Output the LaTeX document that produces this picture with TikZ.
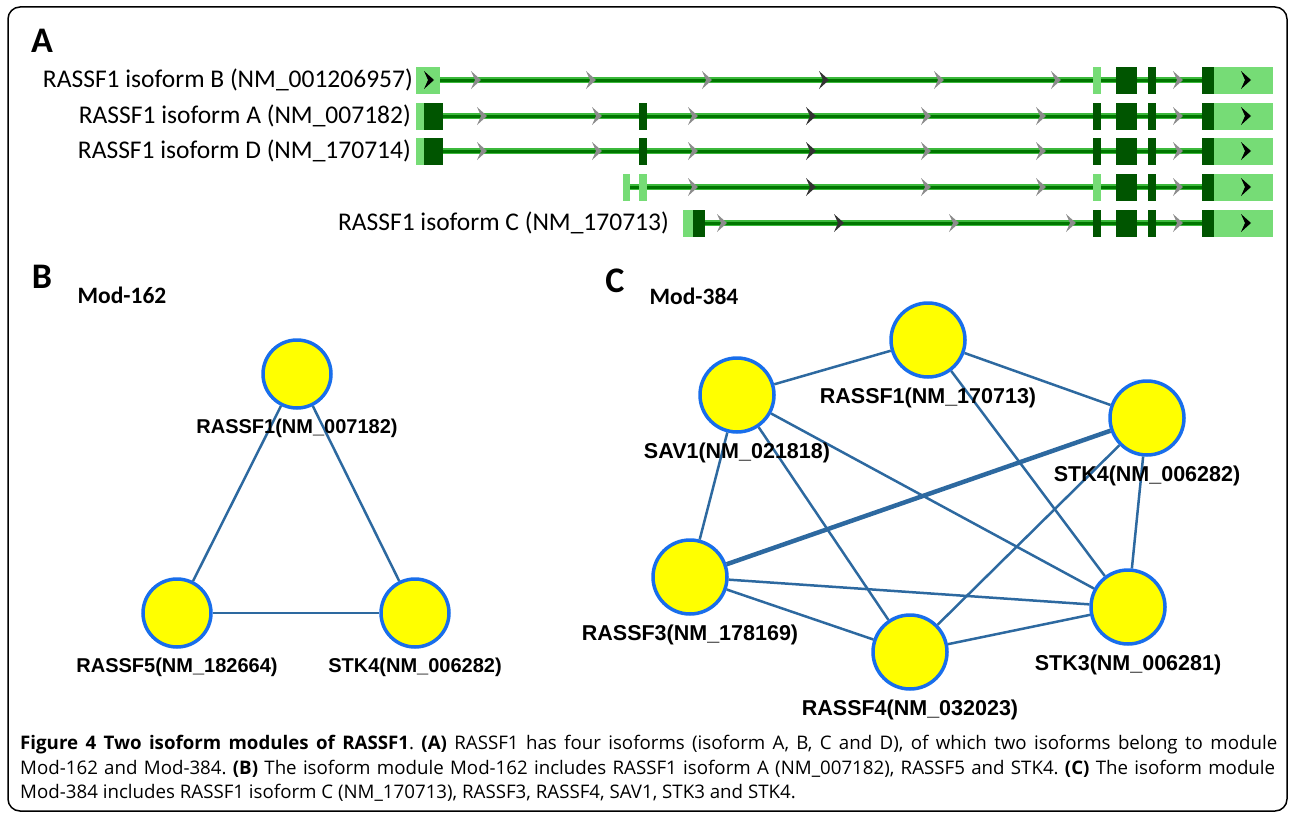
\documentclass[tikz,border=0pt]{standalone}
\usepackage{fontspec}
\setmainfont{Carlito}
\newfontfamily\arialfont{Liberation Sans}
\newfontfamily\capfont{Open Sans}
\usepackage{xcolor}
\usepackage{tikz}
\usetikzlibrary{positioning}
\frenchspacing

\definecolor{exondark}{RGB}{0,85,0}
\definecolor{exonlight}{RGB}{118,220,118}
\definecolor{intronout}{RGB}{60,185,60}
\definecolor{intronin}{RGB}{0,118,0}
\definecolor{chevgray}{RGB}{140,140,140}
\definecolor{chevdark}{RGB}{50,50,50}
\definecolor{nodefill}{RGB}{255,255,0}
\definecolor{nodeline}{RGB}{25,110,235}
\definecolor{edgeblue}{RGB}{45,105,160}

\tikzset{
  chev/.pic={\fill (-6,-9) -- (4,0) -- (-6,9) -- (-2,0) -- cycle;},
  panel/.style={font=\bfseries\fontsize{36}{40}\selectfont, inner sep=0},
  modname/.style={font=\bfseries\fontsize{23.5}{28}\selectfont, inner sep=0},
  rowlab/.style={font=\fontsize{25.5}{30}\selectfont, anchor=east, inner sep=0},
  gnode/.style={circle, draw=nodeline, fill=nodefill, line width=3.5, minimum size=68, inner sep=0},
  gedge/.style={draw=edgeblue, line width=2.5},
  glab/.style={font=\arialfont\bfseries\fontsize{20}{24}\selectfont, inner sep=0},
  caption/.style={font=\capfont\fontsize{18.7}{22}\selectfont, anchor=west, inner sep=0}
}

\begin{document}
\begin{tikzpicture}[x=1pt,y=-1pt]
  \useasboundingbox (0,0) rectangle (1292,816);
  % Frame
  \draw[line width=1.5, rounded corners=12] (8,7) rectangle (1287,811);

  % Panel A: transcript tracks
  \node[panel] (pa) at (42,41) {A};
  \node[rowlab] (rowb) at (413,80) {RASSF1 isoform B (NM\_001206957)};
  \node[rowlab] (rowa) at (411,116) {RASSF1 isoform A (NM\_007182)};
  \node[rowlab] (rowd) at (411,151) {RASSF1 isoform D (NM\_170714)};
  \node[rowlab] (rowc) at (669,223) {RASSF1 isoform C (NM\_170713)};

  % Introns
  \foreach \y/\xa in {80/440,116/443,151/443,187/623,223/705} {
    \draw[line width=6.5, intronout] (\xa,\y) -- (1202,\y);
    \draw[line width=3, intronin] (\xa,\y) -- (1202,\y);
  }

  % Shared 3' exons
  \foreach \y in {80,116,151,187,223} {
    \fill[exondark] (1116,\y-13.5) rectangle (1137,\y+13.5);
    \fill[exondark] (1148,\y-13.5) rectangle (1156,\y+13.5);
    \fill[exondark] (1202,\y-13.5) rectangle (1214,\y+13.5);
    \fill[exonlight] (1214,\y-13.5) rectangle (1273,\y+13.5);
    \pic[chevgray] at (1179,\y) {chev};
    \pic[black] at (1247,\y) {chev};
  }
  \foreach \y in {80,187}
    \fill[exonlight] (1093,\y-13.5) rectangle (1101,\y+13.5);
  \foreach \y in {116,151,223}
    \fill[exondark] (1093,\y-13.5) rectangle (1101,\y+13.5);

  % Isoform B
  \fill[exonlight] (416,66.5) rectangle (440,93.5);
  \pic[black] at (430,80) {chev};
  \foreach \x in {477,592,708,940,1057} \pic[chevgray] at (\x,80) {chev};
  \pic[chevdark] at (825,80) {chev};

  % Isoforms A and D
  \foreach \y in {116,151} {
    \fill[exonlight] (416,\y-13.5) rectangle (424,\y+13.5);
    \fill[exondark] (424,\y-13.5) rectangle (443,\y+13.5);
    \fill[exondark] (639,\y-13.5) rectangle (647,\y+13.5);
    \foreach \x in {483,598,694,927,1042} \pic[chevgray] at (\x,\y) {chev};
    \pic[chevdark] at (812,\y) {chev};
  }

  % Unlabelled track
  \fill[exonlight] (623,173.5) rectangle (630,200.5);
  \fill[exonlight] (639,173.5) rectangle (647,200.5);
  \foreach \x in {694,927,1042} \pic[chevgray] at (\x,187) {chev};
  \pic[chevdark] at (812,187) {chev};

  % Isoform C
  \fill[exonlight] (683,209.5) rectangle (693,236.5);
  \fill[exondark] (693,209.5) rectangle (705,236.5);
  \foreach \x in {723,955,1072} \pic[chevgray] at (\x,223) {chev};
  \pic[chevdark] at (840,223) {chev};

  % Panel B: Mod-162
  \node[panel] (pb) at (42,277) {B};
  \node[modname] (modb) at (122,295) {Mod-162};
  \node[gnode] (b-rassf1) at (297,374) {};
  \node[gnode] (b-rassf5) at (177,613) {};
  \node[gnode] (b-stk4) at (415,613) {};
  \draw[gedge] (b-rassf1) -- (b-rassf5);
  \draw[gedge] (b-rassf5) -- (b-stk4);
  \draw[gedge] (b-stk4) -- (b-rassf1);
  \node[glab, below=9pt of b-rassf1] (b-rassf1-t) {RASSF1(NM\_007182)};
  \node[glab, below=9pt of b-rassf5] (b-rassf5-t) {RASSF5(NM\_182664)};
  \node[glab, below=9pt of b-stk4] (b-stk4-t) {STK4(NM\_006282)};

  % Panel C: Mod-384
  \node[panel] (pc) at (615,281) {C};
  \node[modname] (modc) at (694,296) {Mod-384};
  \begin{scope}[gnode/.append style={minimum size=74}, glab/.append style={font=\arialfont\bfseries\fontsize{21.5}{26}\selectfont}]
    \node[gnode] (c-rassf1) at (928,340) {};
    \node[gnode] (c-sav1) at (737,395) {};
    \node[gnode] (c-stk4) at (1147,418) {};
    \node[gnode] (c-rassf3) at (690,577) {};
    \node[gnode] (c-rassf4) at (910,652) {};
    \node[gnode] (c-stk3) at (1128,607) {};
    \draw[gedge] (c-sav1) -- (c-rassf1);
    \draw[gedge] (c-rassf1) -- (c-stk4);
    \draw[gedge] (c-rassf1) -- (c-stk3);
    \draw[gedge] (c-sav1) -- (c-stk3);
    \draw[gedge] (c-sav1) -- (c-rassf4);
    \draw[gedge] (c-sav1) -- (c-rassf3);
    \draw[gedge, line width=4.5] (c-stk4) -- (c-rassf3);
    \draw[gedge] (c-stk4) -- (c-rassf4);
    \draw[gedge] (c-stk4) -- (c-stk3);
    \draw[gedge] (c-rassf3) -- (c-stk3);
    \draw[gedge] (c-rassf3) -- (c-rassf4);
    \draw[gedge] (c-rassf4) -- (c-stk3);
    \node[glab, below=9pt of c-rassf1] (c-rassf1-t) {RASSF1(NM\_170713)};
    \node[glab, below=9pt of c-sav1] (c-sav1-t) {SAV1(NM\_021818)};
    \node[glab, below=9pt of c-stk4] (c-stk4-t) {STK4(NM\_006282)};
    \node[glab, below=9pt of c-rassf3] (c-rassf3-t) {RASSF3(NM\_178169)};
    \node[glab, below=9pt of c-rassf4] (c-rassf4-t) {RASSF4(NM\_032023)};
    \node[glab, below=9pt of c-stk3] (c-stk3-t) {STK3(NM\_006281)};
  \end{scope}

  % Caption
  \node[caption] (cap1) at (20,745) {\makebox[1257pt][s]{\textbf{Figure 4 Two isoform modules of RASSF1}. \textbf{(A)} RASSF1 has four isoforms (isoform A, B, C and D), of which two isoforms belong to module}};
  \node[caption] (cap2) at (20,769) {\makebox[1255pt][s]{Mod-162 and Mod-384. \textbf{(B)} The isoform module Mod-162 includes RASSF1 isoform A (NM\_007182), RASSF5 and STK4. \textbf{(C)} The isoform module}};
  \node[caption] (cap3) at (20,793) {Mod-384 includes RASSF1 isoform C (NM\_170713), RASSF3, RASSF4, SAV1, STK3 and STK4.};
\end{tikzpicture}
\end{document}
